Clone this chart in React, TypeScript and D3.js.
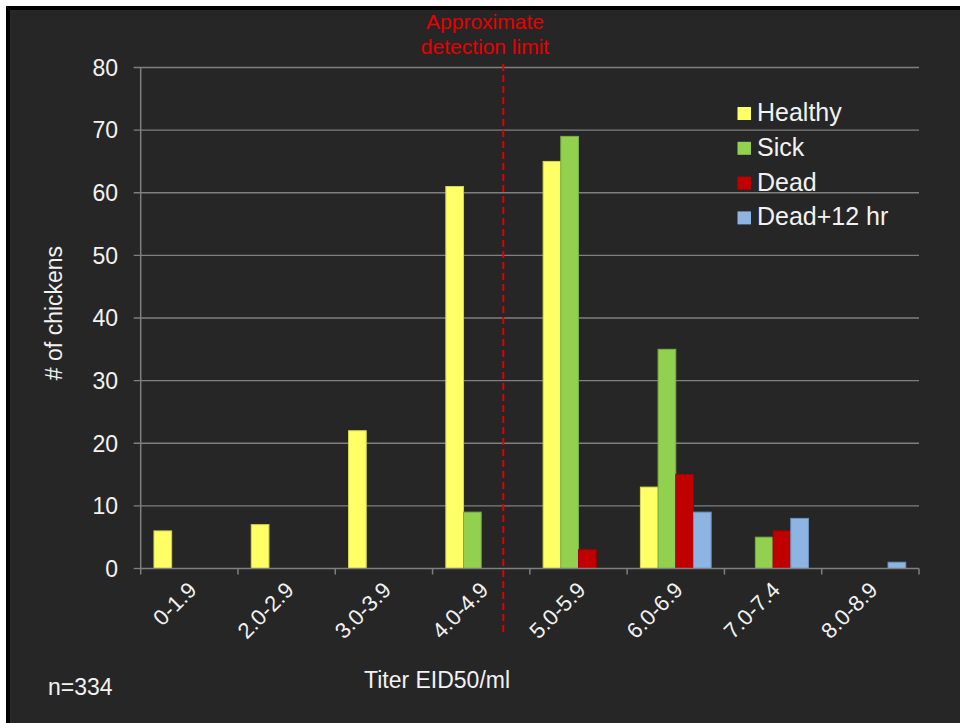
import React from "react";
import * as d3 from "d3";

// Titer bins and chicken counts per outcome
const categories = ["0-1.9", "2.0-2.9", "3.0-3.9", "4.0-4.9", "5.0-5.9", "6.0-6.9", "7.0-7.4", "8.0-8.9"];
const seriesNames = ["Healthy", "Sick", "Dead", "Dead+12 hr"];
const healthy = [6, 7, 22, 61, 65, 13, 0, 0];
const sick = [0, 0, 0, 9, 69, 35, 5, 0];
const dead = [0, 0, 0, 0, 3, 15, 6, 0];
const deadPlus12 = [0, 0, 0, 0, 0, 9, 8, 1];
const yTicks = [0, 10, 20, 30, 40, 50, 60, 70, 80];
// Detection limit sits inside the 4.0-4.9 bin, past its bars
const detectionLimitBin = "4.0-4.9";

const fills = ["#FFFF66", "#92D050", "#C00000", "#8DB4E2"];
const strokes = ["#d4d455", "#7aaf42", "#a00000", "#6f93bd"];

const W = 960;
const H = 723;
const left = 140.7;
const right = 919;
const top = 67.5;
const bottom = 568.5;
const FONT = "'Liberation Sans', Arial, sans-serif";

export default function App() {
  const series = [healthy, sick, dead, deadPlus12];
  const x = d3.scaleBand<string>().domain(categories).range([left, right]).paddingInner(0).paddingOuter(0);
  const inner = d3
    .scaleBand<number>()
    .domain(d3.range(seriesNames.length))
    .range([0, x.bandwidth()])
    .paddingInner(0)
    .paddingOuter(0.75);
  const y = d3.scaleLinear().domain([0, 80]).range([bottom, top]);

  const boundaries = categories.map((c) => x(c) as number).concat([right]);
  const limitX = (x(detectionLimitBin) as number) + x.bandwidth() * 0.727;

  return (
    <svg
      width={W}
      height={H}
      style={{ position: "absolute", left: 0, top: 0, display: "block" }}
      fontFamily={FONT}
    >
      <rect x={0} y={0} width={W} height={H} fill="#ffffff" />
      <rect x={6} y={6} width={W} height={H} fill="#000000" />
      <rect x={10} y={10} width={W} height={H} fill="#262626" />

      {/* gridlines */}
      {yTicks.map((t) => (
        <line
          key={"g" + t}
          x1={left - 7}
          x2={t === 0 ? left : right}
          y1={y(t)}
          y2={y(t)}
          stroke="#7f7f7f"
          strokeWidth={1.3}
        />
      ))}
      {/* y tick labels */}
      {yTicks.map((t) => (
        <text
          key={"yl" + t}
          x={118}
          y={y(t)}
          dy="0.36em"
          textAnchor="end"
          fill="#f2f2f2"
          fontSize={23}
        >
          {t}
        </text>
      ))}

      {/* bars */}
      {series.map((vals, si) =>
        categories.map((c, ci) =>
          vals[ci] > 0 ? (
            <rect
              key={`b${si}-${ci}`}
              x={(x(c) as number) + (inner(si) as number)}
              y={y(vals[ci])}
              width={inner.bandwidth()}
              height={y(0) - y(vals[ci])}
              fill={fills[si]}
              stroke={strokes[si]}
              strokeWidth={1}
            />
          ) : null
        )
      )}

      {/* axes */}
      <line x1={left} x2={left} y1={top} y2={bottom} stroke="#7f7f7f" strokeWidth={1.5} />
      <line x1={left} x2={right} y1={bottom} y2={bottom} stroke="#7f7f7f" strokeWidth={1.5} />
      {boundaries.map((bx, i) => (
        <line key={"xt" + i} x1={bx} x2={bx} y1={bottom} y2={bottom + 6} stroke="#7f7f7f" strokeWidth={1.5} />
      ))}

      {/* x tick labels */}
      {categories.map((c) => {
        const cx = (x(c) as number) + x.bandwidth() / 2 + 3;
        const cy = 586;
        return (
          <text
            key={"xl" + c}
            transform={`translate(${cx},${cy}) rotate(-45)`}
            textAnchor="end"
            dy="0.35em"
            fill="#f2f2f2"
            fontSize={22}
          >
            {c}
          </text>
        );
      })}

      {/* detection limit */}
      <line
        x1={limitX}
        x2={limitX}
        y1={64}
        y2={632}
        stroke="#e00000"
        strokeWidth={2}
        strokeDasharray="7 4"
      />
      <text x={485} y={29} textAnchor="middle" fill="#e60000" fontSize={21}>
        Approximate
      </text>
      <text x={485} y={54} textAnchor="middle" fill="#e60000" fontSize={21}>
        detection limit
      </text>

      {/* legend */}
      {seriesNames.map((n, i) => (
        <g key={"lg" + n}>
          <rect x={737.5} y={107 + i * 34.8} width={13.5} height={13} fill={fills[i]} />
          <text x={757} y={121 + i * 34.8} fill="#f2f2f2" fontSize={25}>
            {n}
          </text>
        </g>
      ))}

      {/* titles */}
      <text
        transform="translate(62,313) rotate(-90)"
        textAnchor="middle"
        fill="#f2f2f2"
        fontSize={23}
      >
        # of chickens
      </text>
      <text x={437} y={688} textAnchor="middle" fill="#f2f2f2" fontSize={23}>
        Titer EID50/ml
      </text>
      <text x={48} y={695} fill="#f2f2f2" fontSize={23}>
        n=334
      </text>
    </svg>
  );
}
